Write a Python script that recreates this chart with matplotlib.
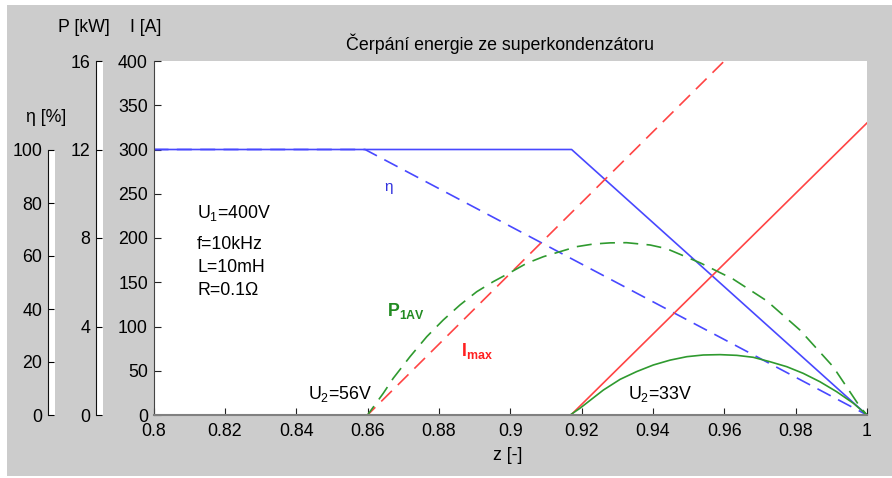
import numpy as np
import matplotlib.pyplot as plt
from matplotlib.patches import Rectangle

plt.rcParams['font.family'] = ['Liberation Sans', 'DejaVu Sans']
plt.rcParams['mathtext.fontset'] = 'custom'
plt.rcParams['mathtext.rm'] = 'Liberation Sans'
plt.rcParams['mathtext.bf'] = 'Liberation Sans:bold'
plt.rcParams['mathtext.it'] = 'Liberation Sans:italic'
plt.rcParams['mathtext.default'] = 'regular'

# -----------------------------
# Data (I axis units: A; P scaled 25 A/kW; eta scaled 3 A/%)
# -----------------------------
z_i_solid = [0.8, 0.9170, 1.0]
i_solid = [0, 0, 330]
z_i_dash = [0.8, 0.86, 0.96]
i_dash = [0, 0, 400]

z_eta_solid = [0.8, 0.9172, 1.0]
eta_solid = [300, 300, 0]
z_eta_dash = [0.8, 0.8593, 1.0]
eta_dash = [300, 300, 0]

z_p_solid = [0.8, 0.9168, 0.9195, 0.9261, 0.9308, 0.9354, 0.9401, 0.9448,
             0.9495, 0.9541, 0.9588, 0.9635, 0.9681, 0.9728, 0.9775,
             0.9821, 0.9868, 0.9915, 0.9962, 1.0]
p_solid = [0, 0, 7.5, 28.2, 40.3, 49, 56.5, 62, 65.9, 67.8, 68.2, 67.4,
           65.2, 60.2, 54.6, 47.1, 37.6, 26.3, 13.2, 0]
z_p_dash = [0.8, 0.86, 0.8644, 0.8672, 0.8719, 0.8766, 0.8812, 0.8859,
            0.8906, 0.8952, 0.8999, 0.9046, 0.9093, 0.9139, 0.9186,
            0.9233, 0.9280, 0.9326, 0.9392, 0.9438, 0.9532, 0.9625,
            0.9719, 0.9812, 0.9905, 0.998, 1.0]
p_dash = [0, 0, 24.5, 41.5, 65.9, 88.5, 107.3, 124.3, 139.3, 150.6, 160.8,
          171.4, 178.9, 184.5, 190.2, 193.2, 194.5, 194.7, 192.1, 188, 172,
          153.5, 129, 96, 54.6, 9.4, 0]

x_ticks = [0.8, 0.82, 0.84, 0.86, 0.88, 0.9, 0.92, 0.94, 0.96, 0.98, 1.0]
x_labels = ['0.8', '0.82', '0.84', '0.86', '0.88', '0.9', '0.92', '0.94',
            '0.96', '0.98', '1']
i_ticks = [0, 50, 100, 150, 200, 250, 300, 350, 400]
p_ticks = [0, 4, 8, 12, 16]
eta_ticks = [0, 20, 40, 60, 80, 100]

W, H = 892, 478
BLUE = '#4848ff'
RED = '#ff4444'
GREEN = '#2f9a2f'
FS = 12.8


def box(l, t, r, b):
    return [l / W, 1 - b / H, (r - l) / W, (b - t) / H]


fig = plt.figure(figsize=(W / 100, H / 100), dpi=100, facecolor='white')
fig.patches.append(Rectangle((7 / W, 2 / H), (W - 7) / W, 471 / H,
                             transform=fig.transFigure, facecolor='#cccccc',
                             edgecolor='none', zorder=-10))
# white strips behind the two narrow side axes
for l, t, r, b in [(96, 61, 103, 415), (48, 150, 55, 415)]:
    fig.patches.append(Rectangle((l / W, 1 - b / H), (r - l) / W,
                                 (b - t) / H, transform=fig.transFigure,
                                 facecolor='white', edgecolor='none',
                                 zorder=-5))

# -----------------------------
# Main axes (I [A])
# -----------------------------
ax = fig.add_axes(box(153.5, 61, 867, 415))
ax.set_facecolor('white')
dash = (0, (9, 5))
ax.plot(z_eta_solid, eta_solid, color=BLUE, lw=1.2)
ax.plot(z_eta_dash, eta_dash, color=BLUE, lw=1.2, linestyle=dash)
ax.plot(z_i_solid, i_solid, color=RED, lw=1.2)
ax.plot(z_i_dash, i_dash, color=RED, lw=1.2, linestyle=dash)
ax.plot(z_p_solid, p_solid, color=GREEN, lw=1.2)
ax.plot(z_p_dash, p_dash, color=GREEN, lw=1.2, linestyle=dash)

ax.set_xlim(0.8, 1.0)
ax.set_ylim(0, 400)
ax.set_xticks(x_ticks)
ax.set_xticklabels(x_labels)
ax.set_yticks(i_ticks)
ax.tick_params(direction='in', length=5, labelsize=FS, pad=4,
               top=False, right=False, color='#222222')
ax.tick_params(axis='x', pad=6)
for s in ('top', 'right'):
    ax.spines[s].set_visible(False)
ax.spines['left'].set_color('#444444')
ax.spines['bottom'].set_color('#808080')
ax.spines['bottom'].set_linewidth(1.5)

ax.text(0.8122, 228, 'U$_1$=400V', fontsize=FS, va='center')
ax.text(0.8122, 193, 'f=10kHz', fontsize=FS, va='center')
ax.text(0.8122, 167, 'L=10mH', fontsize=FS, va='center')
ax.text(0.8122, 141, 'R=0.1Ω', fontsize=FS, va='center')
ax.text(0.8648, 258, 'η', fontsize=11, color='#3333dd', va='center')
ax.text(0.8654, 118, r'$\mathbf{P_{1AV}}$', fontsize=FS, color='#228b22',
        va='center')
ax.text(0.8862, 72, r'$\mathbf{I_{max}}$', fontsize=FS, color='#ff2020',
        va='center')
ax.text(0.8433, 24, 'U$_2$=56V', fontsize=FS, va='center')
ax.text(0.9330, 24, 'U$_2$=33V', fontsize=FS, va='center')

# -----------------------------
# P [kW] axis
# -----------------------------
axp = fig.add_axes(box(96, 61, 103, 415))
axp.set_facecolor('white')
axp.set_ylim(0, 16)
axp.set_yticks(p_ticks)
axp.set_xticks([])
axp.tick_params(direction='in', length=4, labelsize=FS, pad=4)
for s in ('top', 'right', 'bottom'):
    axp.spines[s].set_visible(False)
axp.spines['left'].set_color('#111111')

# -----------------------------
# eta [%] axis
# -----------------------------
axe = fig.add_axes(box(48, 150, 55, 415))
axe.set_facecolor('white')
axe.set_ylim(0, 100)
axe.set_yticks(eta_ticks)
axe.set_xticks([])
axe.tick_params(direction='in', length=4, labelsize=FS, pad=4)
for s in ('top', 'right', 'bottom'):
    axe.spines[s].set_visible(False)
axe.spines['left'].set_color('#111111')

# -----------------------------
# Axis labels and title
# -----------------------------
fig.text(84 / W, 1 - 27 / H, 'P [kW]', fontsize=FS, ha='center', va='center')
fig.text(146 / W, 1 - 27 / H, 'I [A]', fontsize=FS, ha='center', va='center')
fig.text(46 / W, 1 - 117 / H, 'η [%]', fontsize=FS, ha='center', va='center')
fig.text(500 / W, 1 - 44 / H, 'Čerpání energie ze superkondenzátoru',
         fontsize=FS, ha='center', va='center')
fig.text(508 / W, 1 - 455 / H, 'z [-]', fontsize=FS, ha='center',
         va='center')

fig.savefig('out.png', dpi=100, facecolor=fig.get_facecolor())
